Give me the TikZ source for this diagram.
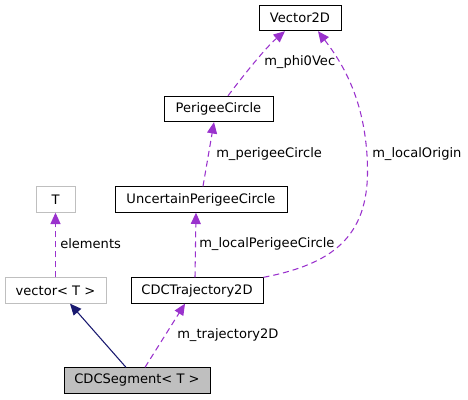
\documentclass[tikz,border=0pt]{standalone}
\usepackage{fontspec}
\setmainfont{DejaVu Sans}
\usetikzlibrary{arrows.meta,calc}
\definecolor{depc}{HTML}{9A32CD}
\definecolor{inhc}{HTML}{191970}
\definecolor{extc}{HTML}{BFBFBF}
\begin{document}
\begin{tikzpicture}[x=0.75pt,y=-0.75pt,
  font=\fontsize{9.8}{11}\selectfont,
  box/.style={rectangle,draw=black,line width=0.75pt,inner sep=0pt,minimum height=19pt,fill=white},
  extbox/.style={box,draw=extc},
  curbox/.style={box,fill=extc},
  dep/.style={draw=depc,line width=0.8pt,dash pattern=on 4.5pt off 3pt,-{Triangle[length=8.5pt,width=7.5pt]}},
  inh/.style={draw=inhc,line width=0.8pt,-{Triangle[length=8.5pt,width=7.5pt]}},
  lbl/.style={anchor=west,inner sep=0pt,text=black}]
\useasboundingbox (0,0) rectangle (468,400);
\node[box,minimum width=61.5pt] (v2d) at (300,18) {Vector2D};
\node[box,minimum width=81.75pt] (pc) at (218.5,109) {PerigeeCircle};
\node[box,minimum width=129pt] (upc) at (201,199.5) {UncertainPerigeeCircle};
\node[extbox,minimum width=29.25pt] (t) at (55.5,199.5) {T};
\node[extbox,minimum width=75.75pt] (vec) at (55.5,290.5) {vector< T >};
\node[box,minimum width=99pt] (traj) at (197,290.5) {CDCTrajectory2D};
\node[curbox,minimum width=109.5pt] (seg) at (137,380.5) {CDCSegment< T >};
% edges
\draw[dep] ($(pc.north)+(9.5,0)$) .. controls ($(pc.north)+(21.5,-16)$) and ($(v2d.south)+(-35,17)$) .. ($(v2d.south)+(-15,0)$);
\draw[dep] ($(upc.north)+(2,0)$) -- ($(pc.south)+(-4.5,0)$);
\draw[dep] (traj.north east) .. controls ($(traj.north east)+(67,-13)$) and ($(traj.north east)+(105,-39)$) .. ($(traj.north east)+(104,-109)$)
  .. controls ($(traj.north east)+(103,-179)$) and ($(v2d.south)+(40,29)$) .. ($(v2d.south)+(18,0)$);
\draw[dep] ($(traj.north)+(-2,0)$) -- ($(upc.south)+(-5,0)$);
\draw[dep] (vec.north) -- (t.south);
\draw[inh] ($(seg.north)+(-11,0)$) -- ($(vec.south)+(14.5,0)$);
\draw[dep] ($(seg.north)+(8,0)$) -- ($(traj.south)+(-12,0)$);
% labels
\node[lbl] (l1) at (264,62) {m\_phi0Vec};
\node[lbl] (l2) at (216,154) {m\_perigeeCircle};
\node[lbl] (l3) at (372,154) {m\_localOrigin};
\node[lbl] (l4) at (60,244) {elements};
\node[lbl] (l5) at (199,244) {m\_localPerigeeCircle};
\node[lbl] (l6) at (177,335) {m\_trajectory2D};
\end{tikzpicture}
\end{document}
